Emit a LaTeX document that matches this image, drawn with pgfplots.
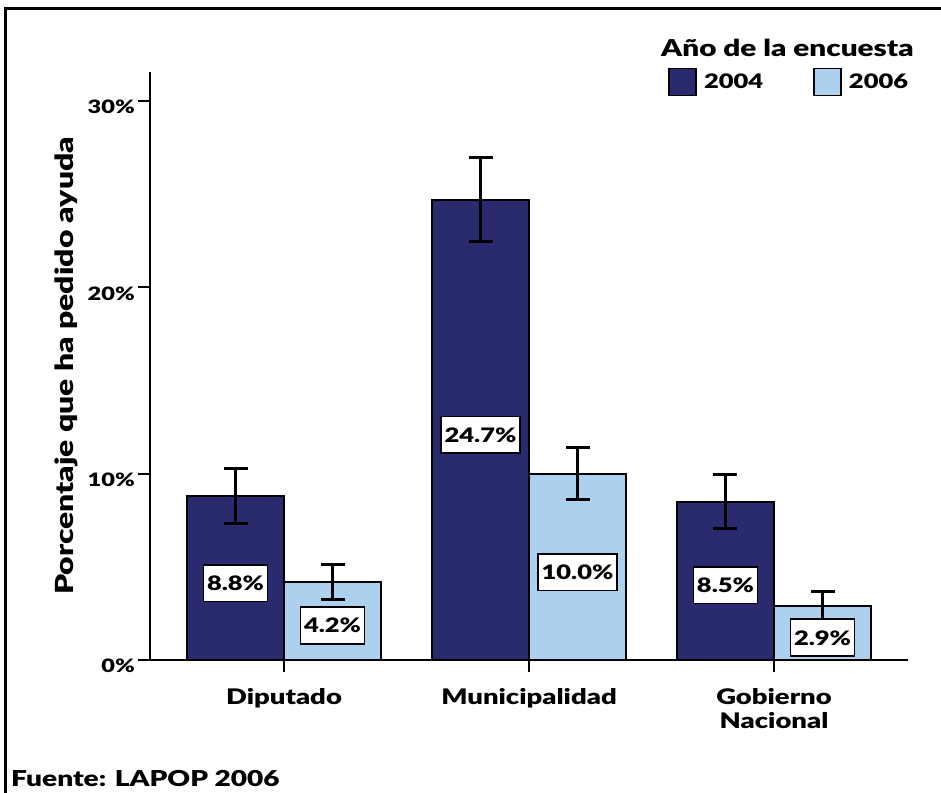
\documentclass[border=0pt]{standalone}
\usepackage{pgfplots}
\pgfplotsset{compat=1.18}
\usepackage{fontspec}
\setmainfont{Lato Black}[FakeStretch=1.28]
\definecolor{darkbar}{RGB}{42,42,110}
\definecolor{lightbar}{RGB}{173,208,238}
\begin{document}
\begin{tikzpicture}[x=1bp,y=1bp]
\path[use as bounding box] (0,0) rectangle (941,793);
\draw[line width=2.8bp] (5.3,0) -- (5.3,784.3) -- (941,784.3);
\begin{axis}[
  at={(150bp,133bp)}, anchor=south west,
  scale only axis, width=758bp, height=588bp,
  xmin=-0.547, xmax=2.547, ymin=0, ymax=31.56,
  axis x line*=bottom, axis y line*=left,
  axis line style={line width=2.5bp, black},
  ytick={0,10,20,30}, yticklabels={0\%,10\%,20\%,30\%},
  xtick={0,1,2}, xticklabels={Diputado,Municipalidad,Gobierno\\Nacional},
  tick align=outside, major tick length=12bp,
  tick style={line width=2bp, black},
  xticklabel style={align=center, inner sep=0pt, font=\fontsize{21.5}{24}\selectfont},
  xticklabel shift=16bp,
  yticklabel style={inner sep=0pt, yshift=-6bp, font=\fontsize{18.5}{22}\selectfont},
  yticklabel shift=3bp,
  every axis y label/.style={at={(rel axis cs:0,0.5)}, xshift=-84bp, rotate=90, anchor=center, font=\fontsize{25}{28}\selectfont},
  ylabel={Porcentaje que ha pedido ayuda},
  legend columns=2,
  legend style={draw=none, fill=none, at={(rel axis cs:0.6834,0.983)}, anchor=west, inner sep=0pt,
    font=\fontsize{20}{24}\selectfont,
    /tikz/every odd column/.append style={column sep=5bp},
    /tikz/every even column/.append style={column sep=48bp}},
  clip=false,
]
\addplot[ybar, bar shift=-0.198, bar width=0.396, fill=darkbar, draw=black, line width=1.8bp,
  legend image code/.code={\draw[fill=darkbar, draw=black, line width=1.8bp] (0bp,-13.5bp) rectangle (27bp,13.5bp);}]
  coordinates {(0,8.8) (1,24.7) (2,8.5)};
\addlegendentry{2004}
\addplot[ybar, bar shift=0.198, bar width=0.396, fill=lightbar, draw=black, line width=1.8bp,
  legend image code/.code={\draw[fill=lightbar, draw=black, line width=1.8bp] (0bp,-13.5bp) rectangle (27bp,13.5bp);}]
  coordinates {(0,4.2) (1,10.0) (2,2.9)};
\addlegendentry{2006}
% value labels
\addplot[forget plot, draw=none, mark=none, nodes near coords, point meta=explicit symbolic,
  every node near coord/.style={anchor=center, fill=white, draw=black, line width=1.8bp,
    inner xsep=3.5bp, inner ysep=11bp, font=\fontsize{20}{22}\selectfont}]
  coordinates {(-0.198,4.13) [8.8\%] (0.802,12.08) [24.7\%] (1.802,4.02) [8.5\%]
               (0.198,1.86) [4.2\%] (1.198,4.72) [10.0\%] (2.198,1.19) [2.9\%]};
% error bars
\addplot[forget plot, draw=none, mark=none,
  error bars/.cd, y dir=both, y explicit,
  error bar style={draw=black, line width=3bp},
  error mark options={rotate=90, mark size=12bp, line width=3bp, draw=black}]
  coordinates {(-0.198,8.8) +- (0,1.46) (0.802,24.7) +- (0,2.25) (1.802,8.5) +- (0,1.45)
               (0.198,4.2) +- (0,0.94) (1.198,10.0) +- (0,1.41) (2.198,2.9) +- (0,0.77)};
\end{axis}
\node[anchor=base west, inner sep=0pt, font=\fontsize{23.3}{24}\selectfont] at (661,736) {Año de la encuesta};
\node[anchor=base west, inner sep=0pt, font=\fontsize{22}{24}\selectfont] at (11,6.3) {Fuente: LAPOP 2006};
\end{tikzpicture}
\end{document}
